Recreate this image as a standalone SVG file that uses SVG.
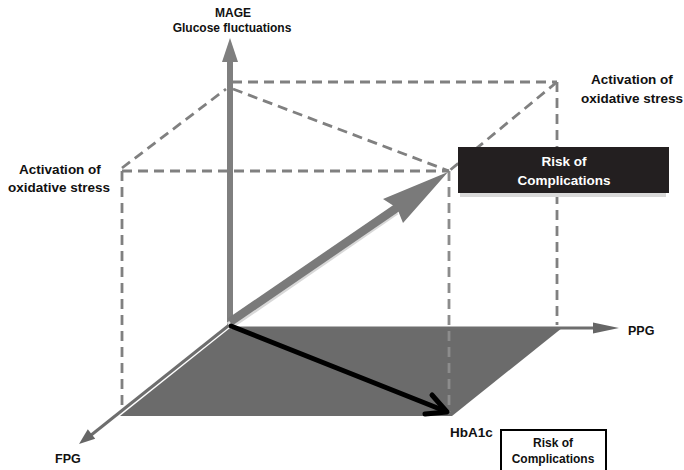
<svg xmlns="http://www.w3.org/2000/svg" width="684" height="470" viewBox="0 0 684 470">
<style>
text{font-family:"Liberation Sans",Arial,sans-serif;font-weight:bold;fill:#111}
.lbl{font-size:13.5px}
.dash{stroke:#808080;stroke-width:2.8;stroke-dasharray:10 6;fill:none}
.c{text-anchor:middle}
</style>
<rect width="684" height="470" fill="#fff"/>
<g id="plane">
<polygon points="230,328 562,328 452,416 120,416" fill="#6b6b6b"/>
</g>
<g id="connectors">
<g id="guides">
<line class="dash" x1="232" y1="82" x2="557" y2="82"/>
<line class="dash" x1="557" y1="82" x2="557" y2="325"/>
<line class="dash" x1="557" y1="82" x2="449" y2="171"/>
<line class="dash" x1="122" y1="171" x2="449" y2="171"/>
<line class="dash" x1="449" y1="171" x2="449" y2="412" style="stroke:#8c8c8c"/>
<line class="dash" x1="122" y1="171" x2="122" y2="410"/>
<line class="dash" x1="122" y1="168" x2="226" y2="89"/>
<line class="dash" x1="233" y1="89" x2="449" y2="171"/>
</g>
<g id="axis-mage">
<rect x="227" y="58" width="6" height="268" fill="#7f7f7f"/>
<polygon points="230,38 238,62 222,62" fill="#7f7f7f"/>
</g>
<g id="axis-ppg">
<line x1="230" y1="328" x2="597" y2="328" stroke="#6e6e6e" stroke-width="3"/>
<polygon points="593,322.5 619,328 593,333.5" fill="#666"/>
</g>
<g id="axis-fpg">
<line x1="228" y1="326" x2="90" y2="436" stroke="#6e6e6e" stroke-width="3"/>
<polygon points="79,444 95.2,438.7 87.8,429.3" fill="#666"/>
</g>
<g id="arrow-risk">
<line x1="229" y1="326" x2="396" y2="211" stroke="#d8d8d8" stroke-width="8"/>
<line x1="230" y1="322" x2="398" y2="207" stroke="#7a7a7a" stroke-width="8.5"/>
<polygon points="448,172 383,199 397,208 403,223" fill="#7a7a7a"/>
</g>
<g id="arrow-hba1c">
<line x1="231" y1="326" x2="445" y2="411" stroke="#000" stroke-width="5" stroke-linecap="round"/>
<polyline points="432,395 447,412 425,414" fill="none" stroke="#000" stroke-width="5" stroke-linecap="round" stroke-linejoin="round"/>
</g>
</g>
<g id="label-mage">
<text class="c" x="233" y="17" style="font-size:12px">MAGE</text>
<text class="c" x="232" y="32" style="font-size:12px">Glucose fluctuations</text>
</g>
<g id="label-ox-left">
<text class="lbl c" x="60" y="174">Activation of</text>
<text class="lbl c" x="59" y="192">oxidative stress</text>
</g>
<g id="label-ox-right">
<text class="lbl c" x="632" y="84">Activation of</text>
<text class="lbl c" x="632" y="103">oxidative stress</text>
</g>
<g id="box-risk-dark">
<rect x="460" y="151" width="206" height="46" fill="#d9d9d9"/>
<rect x="458" y="147" width="211" height="46" fill="#231f20"/>
<text class="lbl c" x="564" y="166" style="fill:#fff">Risk of</text>
<text class="lbl c" x="564" y="185" style="fill:#fff">Complications</text>
</g>
<g id="label-ppg"><text x="628" y="335" style="font-size:12.5px">PPG</text></g>
<g id="label-fpg"><text x="55" y="463" style="font-size:12.5px">FPG</text></g>
<g id="label-hba1c"><text class="lbl" x="450" y="437">HbA1c</text></g>
<g id="box-risk-light">
<rect x="501" y="430" width="105" height="45" fill="#fff" stroke="#000" stroke-width="2"/>
<text class="c" x="553" y="447" style="font-size:12px">Risk of</text>
<text class="c" x="553" y="463" style="font-size:12px">Complications</text>
</g>
</svg>
